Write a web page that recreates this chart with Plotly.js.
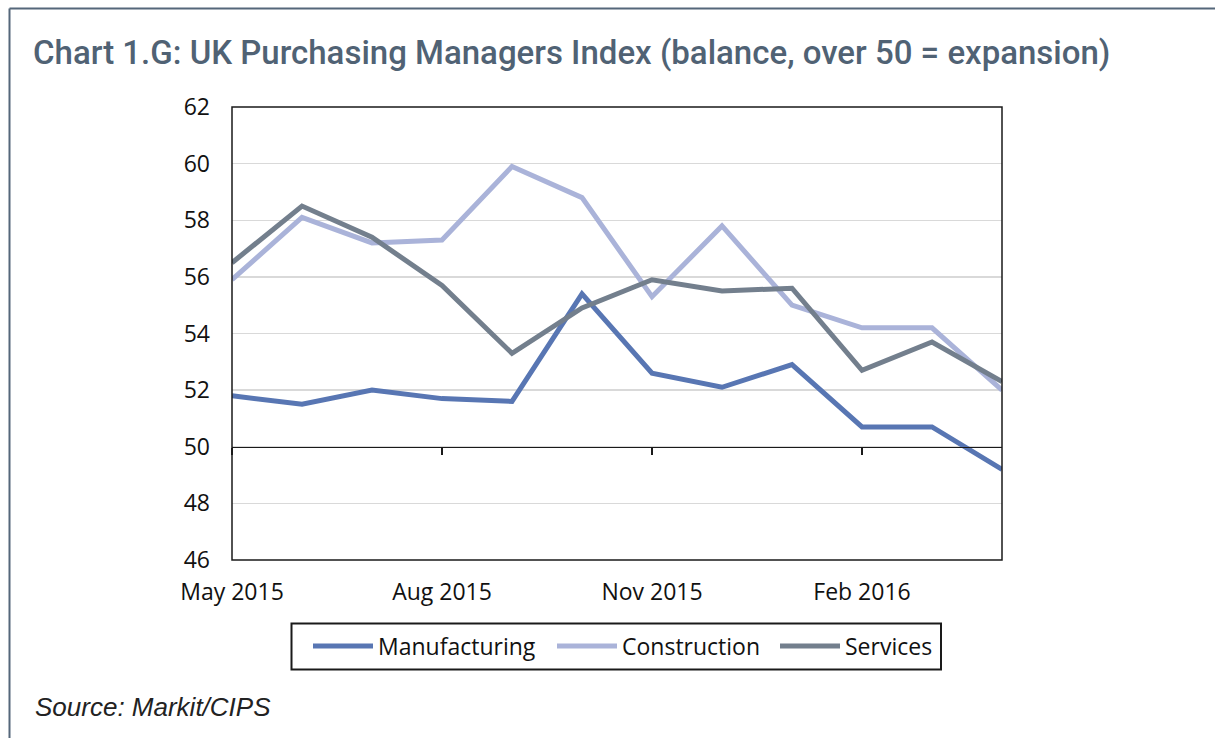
<!DOCTYPE html>
<html>
<head>
<meta charset="utf-8">
<script src="https://cdn.plot.ly/plotly-3.0.1.min.js"></script>
<style>
  html, body { margin: 0; padding: 0; background: #ffffff; }
  #chart { width: 1215px; height: 738px; }
</style>
</head>
<body>
<div id="chart"></div>
<script>
const months = ['May 2015','Jun 2015','Jul 2015','Aug 2015','Sep 2015','Oct 2015',
                'Nov 2015','Dec 2015','Jan 2016','Feb 2016','Mar 2016','Apr 2016'];
const tickMonths = ['May 2015','Aug 2015','Nov 2015','Feb 2016'];
const yTicks = [46, 48, 50, 52, 54, 56, 58, 60, 62];
const manufacturing = [51.8, 51.5, 52.0, 51.7, 51.6, 55.4, 52.6, 52.1, 52.9, 50.7, 50.7, 49.2];
const construction  = [55.9, 58.1, 57.2, 57.3, 59.9, 58.8, 55.3, 57.8, 55.0, 54.2, 54.2, 52.0];
const services      = [56.5, 58.5, 57.4, 55.7, 53.3, 54.9, 55.9, 55.5, 55.6, 52.7, 53.7, 52.3];

const W = 1215, H = 738;
const L = 232, R = 213, T = 107, B = 178;
const pw = W - L - R, ph = H - T - B;
const px = v => (v - L) / pw;          // pixel x -> paper
const py = v => (H - B - v) / ph;      // pixel y -> paper

const traces = [
  { name: 'Manufacturing', legendwidth: 169, x: months, y: manufacturing, type: 'scatter', mode: 'lines',
    line: { color: '#5876b3', width: 5 } },
  { name: 'Construction', legendwidth: 148, x: months, y: construction, type: 'scatter', mode: 'lines',
    line: { color: '#aab3d9', width: 5 } },
  { name: 'Services', x: months, y: services, type: 'scatter', mode: 'lines',
    line: { color: '#737f8d', width: 5 } }
];

const tickFont = { family: 'Open Sans, sans-serif', size: 23, color: '#111111' };

const layout = {
  width: W, height: H,
  margin: { l: L, r: R, t: T, b: B },
  paper_bgcolor: '#ffffff', plot_bgcolor: '#ffffff',
  showlegend: true,
  title: {
    text: 'Chart 1.G: UK Purchasing Managers Index (balance, over 50 = expansion)',
    font: { family: 'Roboto, Liberation Sans, sans-serif', size: 33, weight: 500, color: '#506274' },
    xref: 'container', yref: 'container', x: 33 / W, xanchor: 'left',
    y: 1 - 52 / H, yanchor: 'middle'
  },
  xaxis: {
    type: 'category', categoryorder: 'array', categoryarray: months,
    range: [0, months.length - 1],
    anchor: 'free', position: (50 - 46) / 16,
    showgrid: false, zeroline: false,
    showline: true, linecolor: '#1a1a1a', linewidth: 1.5,
    tickmode: 'array', tickvals: tickMonths, ticktext: tickMonths,
    ticks: 'outside', ticklen: 7, tickwidth: 1.5, tickcolor: '#1a1a1a',
    ticklabelstandoff: 117,
    tickfont: tickFont,
    fixedrange: true
  },
  yaxis: {
    range: [46, 62], tickmode: 'array', tickvals: yTicks,
    showgrid: true, gridcolor: '#d9d9d9', gridwidth: 1.5,
    zeroline: false, showline: false, ticks: '',
    ticklabelstandoff: 21,
    tickfont: tickFont,
    fixedrange: true
  },
  legend: {
    orientation: 'h', x: px(308), xanchor: 'left', y: py(646), yanchor: 'middle',
    borderwidth: 0, bgcolor: 'rgba(0,0,0,0)',
    font: { family: 'Open Sans, sans-serif', size: 23, color: '#111111' },
    itemwidth: 60, tracegroupgap: 0
  },
  shapes: [
    { type: 'rect', xref: 'paper', yref: 'paper', x0: 0, x1: 1, y0: 0, y1: 1,
      line: { color: '#1a1a1a', width: 1.5 }, layer: 'above' },
    { type: 'rect', xref: 'paper', yref: 'paper', x0: px(291.5), x1: px(941), y0: py(623.5), y1: py(669.5),
      line: { color: '#1a1a1a', width: 2 }, layer: 'below' },
    { type: 'line', xref: 'paper', yref: 'paper', x0: px(9.5), x1: px(9.5), y0: py(8.5), y1: py(760),
      line: { color: '#55677a', width: 2 } },
    { type: 'line', xref: 'paper', yref: 'paper', x0: px(9.5), x1: px(1240), y0: py(8.5), y1: py(8.5),
      line: { color: '#55677a', width: 2 } }
  ],
  annotations: [
    { text: 'Source: Markit/CIPS', xref: 'paper', yref: 'paper',
      x: px(33), y: py(707), xanchor: 'left', yanchor: 'middle', showarrow: false,
      font: { family: 'Liberation Sans, Arial, sans-serif', size: 26, color: '#222222', style: 'italic' } }
  ]
};

Plotly.newPlot('chart', traces, layout, { displayModeBar: false, staticPlot: true });
</script>
</body>
</html>
